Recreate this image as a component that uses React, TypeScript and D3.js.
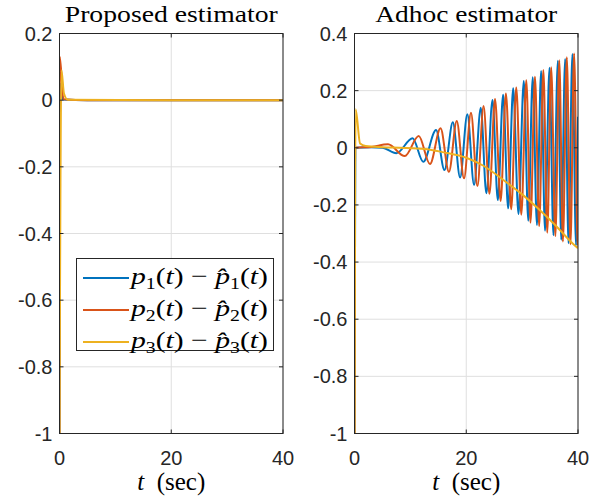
import * as d3 from 'd3';

// colours of the three estimation errors
const BLUE = '#0072BD';
const ORANGE = '#D95319';
const YELLOW = '#EDB120';

const timeTicks = [0, 20, 40];
const leftTicks = [0.2, 0, -0.2, -0.4, -0.6, -0.8, -1];
const rightTicks = [0.4, 0.2, 0, -0.2, -0.4, -0.6, -0.8, -1];

// proposed estimator: transient then zero
const propT1 = [0, 0.12, 0.6, 5, 20, 40];
const propE1 = [-1, 0.05, 0.002, 0, 0, 0];
const propT2 = [0, 0.05, 0.7, 5, 20, 40];
const propE2 = [-1, 0.13, 0.003, 0, 0, 0];
const propT3 = [0, 0.35, 0.8, 1.5, 20, 40];
const propE3 = [-1, 0.09, 0.02, 0.001, 0, 0];

// adhoc estimator: growing oscillations (extrema)
const adT1 = [0, 0.15, 3, 5, 7.5, 10.4, 12.3, 14.6, 16.1, 17.6, 18.9, 20.2, 21.4, 22.6, 23.6, 24.7, 25.65, 26.6, 27.5, 28.4, 29.35, 30.3, 31.1, 31.9, 32.65, 33.4, 34.1, 34.9, 35.6, 36.4, 37.0, 37.7, 38.3, 39.0, 39.65, 40];
const adE1 = [-1, 0.0, 0.002, 0.0, -0.019, 0.033, -0.049, 0.062, -0.078, 0.089, -0.104, 0.117, -0.13, 0.14, -0.159, 0.167, -0.183, 0.186, -0.212, 0.208, -0.232, 0.234, -0.255, 0.247, -0.27, 0.269, -0.29, 0.28, -0.306, 0.305, -0.322, 0.311, -0.334, 0.328, -0.342, 0.109];
const adT2 = [0, 0.1, 3, 6.0, 9.0, 11.5, 13.5, 15.4, 16.9, 18.3, 19.6, 20.85, 22.0, 23.1, 24.15, 25.15, 26.15, 27.1, 28.05, 28.95, 29.85, 30.75, 31.5, 32.3, 33.05, 33.8, 34.5, 35.2, 35.95, 36.65, 37.3, 38.0, 38.65, 39.3, 39.95, 40];
const adE2 = [-1, 0.0, 0.003, 0.012, -0.029, 0.041, -0.057, 0.068, -0.084, 0.094, -0.107, 0.123, -0.134, 0.146, -0.161, 0.171, -0.186, 0.19, -0.215, 0.211, -0.234, 0.236, -0.262, 0.249, -0.274, 0.272, -0.297, 0.282, -0.309, 0.306, -0.328, 0.317, -0.338, 0.33, -0.345, -0.344];
const adT3 = [0, 0.2, 1.0, 2, 5, 8, 12.6, 16, 20, 23, 27, 30, 33, 36, 39, 40];
const adE3 = [-1, 0.135, 0.015, 0.006, 0.002, 0.0, -0.004, -0.016, -0.035, -0.062, -0.118, -0.163, -0.215, -0.272, -0.334, -0.352];

const TOP = 33.5;
const BOTTOM = 433.5;
const AXIS = '#262626';
const GRID = '#dfdfdf';

type Series = { t: number[]; e: number[]; color: string };

function Sub({ n }: { n: string }) {
  return (
    <>
      <tspan fontSize={16} dy={5}>{n}</tspan>
      <tspan dy={-5}>(</tspan>
    </>
  );
}

function LegendLabel({ n, x, y }: { n: string; x: number; y: number }) {
  return (
    <text x={x} y={y} fontFamily="Liberation Serif" fontSize={24} fill="#000"
      textLength={137} lengthAdjust="spacingAndGlyphs">
      <tspan fontStyle="italic">p</tspan>
      <Sub n={n} />
      <tspan fontStyle="italic">t</tspan>
      <tspan>{') \u2212 '}</tspan>
      <tspan fontStyle="italic">{'p\u0302'}</tspan>
      <Sub n={n} />
      <tspan fontStyle="italic">t</tspan>
      <tspan>)</tspan>
    </text>
  );
}

function Panel({ id, x0, x1, yTicks, series, title, titleWidth, legend }: {
  id: string; x0: number; x1: number; yTicks: number[]; series: Series[];
  title: string; titleWidth: number; legend?: boolean;
}) {
  const x = d3.scaleLinear().domain([0, 40]).range([x0, x1]);
  const y = d3.scaleLinear().domain([-1, yTicks[0]]).range([BOTTOM, TOP]);
  const line = (s: Series) =>
    d3.line<number>().x((_, i) => x(s.t[i])).y(d => y(d)).curve(d3.curveMonotoneX)(s.e) || '';
  const cx = (x0 + x1) / 2;
  const tick = 4;
  return (
    <g>
      <defs>
        <clipPath id={id}>
          <rect x={x0} y={TOP - 2} width={x1 - x0} height={BOTTOM - TOP + 2} />
        </clipPath>
      </defs>
      {timeTicks.map(t => (
        <line key={'gx' + t} x1={x(t)} x2={x(t)} y1={TOP} y2={BOTTOM} stroke={GRID} />
      ))}
      {yTicks.map(v => (
        <line key={'gy' + v} x1={x0} x2={x1} y1={y(v)} y2={y(v)} stroke={GRID} />
      ))}
      <g clipPath={`url(#${id})`}>
        {series.map((s, i) => (
          <path key={i} d={line(s)} fill="none" stroke={s.color} strokeWidth={2} strokeLinejoin="round" />
        ))}
      </g>
      <rect x={x0} y={TOP} width={x1 - x0} height={BOTTOM - TOP} fill="none" stroke={AXIS} strokeWidth={1} />
      {timeTicks.map(t => (
        <g key={'tx' + t}>
          <line x1={x(t)} x2={x(t)} y1={BOTTOM} y2={BOTTOM - tick} stroke={AXIS} />
          <line x1={x(t)} x2={x(t)} y1={TOP} y2={TOP + tick} stroke={AXIS} />
          <text x={x(t)} y={465} textAnchor="middle" fontFamily="Liberation Sans" fontSize={20} fill={AXIS}>{t}</text>
        </g>
      ))}
      {yTicks.map(v => (
        <g key={'ty' + v}>
          <line x1={x0} x2={x0 + tick} y1={y(v)} y2={y(v)} stroke={AXIS} />
          <line x1={x1} x2={x1 - tick} y1={y(v)} y2={y(v)} stroke={AXIS} />
          <text x={x0 - 7} y={y(v) + 7} textAnchor="end" fontFamily="Liberation Sans" fontSize={20} fill={AXIS}>{String(+v.toFixed(1))}</text>
        </g>
      ))}
      <text x={cx} y={22} textAnchor="middle" fontFamily="Liberation Serif" fontSize={24} fill="#000"
        textLength={titleWidth} lengthAdjust="spacingAndGlyphs">{title}</text>
      <text x={cx} y={490} textAnchor="middle" fontFamily="Liberation Serif" fontSize={25} fill="#000">
        <tspan fontStyle="italic">t</tspan>
        <tspan>{'\u2002(sec)'}</tspan>
      </text>
      {legend && (
        <g>
          <rect x={76.5} y={258.5} width={197} height={92} fill="#fff" stroke={AXIS} strokeWidth={1} />
          {series.map((s, i) => (
            <g key={'lg' + i}>
              <line x1={83} x2={129} y1={278 + i * 32} y2={278 + i * 32} stroke={s.color} strokeWidth={2} />
              <LegendLabel n={String(i + 1)} x={131} y={284 + i * 32} />
            </g>
          ))}
        </g>
      )}
    </g>
  );
}

export default function App() {
  const left: Series[] = [
    { t: propT1, e: propE1, color: BLUE },
    { t: propT2, e: propE2, color: ORANGE },
    { t: propT3, e: propE3, color: YELLOW },
  ];
  const right: Series[] = [
    { t: adT1, e: adE1, color: BLUE },
    { t: adT2, e: adE2, color: ORANGE },
    { t: adT3, e: adE3, color: YELLOW },
  ];
  return (
    <svg width={604} height={500} style={{ position: 'absolute', left: 0, top: 0, background: '#fff' }}>
      <Panel id="clipL" x0={59.5} x1={283} yTicks={leftTicks} series={left}
        title="Proposed estimator" titleWidth={213} legend />
      <Panel id="clipR" x0={354.5} x1={578} yTicks={rightTicks} series={right}
        title="Adhoc estimator" titleWidth={182} />
    </svg>
  );
}
